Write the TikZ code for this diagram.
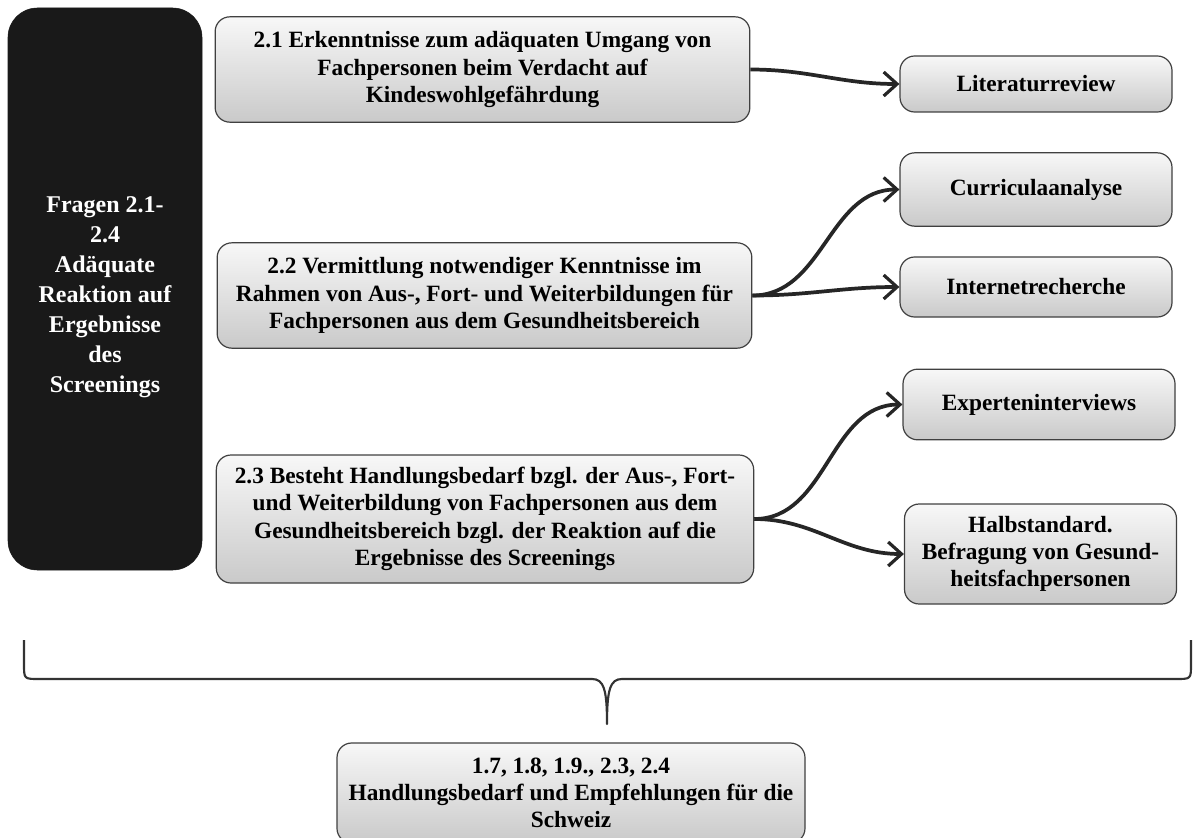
\documentclass[tikz,border=0pt]{standalone}
\usepackage{fontspec}
\setmainfont{Liberation Serif}
\usetikzlibrary{arrows.meta,positioning,calc}
\tikzset{
  frage/.style={rectangle, rounded corners=22pt, fill=black!90, draw=black!90, text=white, align=center, font=\bfseries\fontsize{18}{22.5}\selectfont, inner sep=2pt},
  frbox/.style={rectangle, rounded corners=11pt, draw=black!75, line width=0.9pt, top color=gray!6, bottom color=gray!42, align=center, font=\bfseries\fontsize{17.5}{20.5}\selectfont, inner sep=2pt},
  method/.style={frbox, minimum width=204pt},
  arrow/.style={-{Straight Barb[length=10pt,width=18pt,line width=2.4pt]}, line width=2.8pt, black!85},
  klammer/.style={line width=1.6pt, black!80, line join=round}
}
\begin{document}
\begin{tikzpicture}[x=0.75pt,y=-0.75pt]
  \useasboundingbox (0,0) rectangle (1195,838);
  \node[frage, minimum width=145.5pt, minimum height=421.5pt] (fr) at (105,289) {};
  \node[frage, fill=none, draw=none] (frtext) at (105,297) {Fragen 2.1-\\2.4\\Adäquate\\Reaktion auf\\Ergebnisse\\des\\Screenings};
  \node[frbox, minimum width=401pt, minimum height=79pt] (q21) at (482.5,69.5) {2.1 Erkenntnisse zum adäquaten Umgang von\\Fachpersonen beim Verdacht auf\\Kindeswohlgefährdung};
  \node[frbox, minimum width=401pt, minimum height=79pt] (q22) at (484.5,295.5) {2.2 Vermittlung notwendiger Kenntnisse im\\Rahmen von Aus-, Fort- und Weiterbildungen für\\Fachpersonen aus dem Gesundheitsbereich};
  \node[frbox, minimum width=403pt, minimum height=96pt] (q23) at (485,519) {2.3 Besteht Handlungsbedarf bzgl. der Aus-, Fort-\\und Weiterbildung von Fachpersonen aus dem\\Gesundheitsbereich bzgl. der Reaktion auf die\\Ergebnisse des Screenings};
  \node[method, minimum height=42pt] (lit) at (1036,84) {Literaturreview};
  \node[method, minimum height=55pt] (cur) at (1036,189.5) {Curriculaanalyse};
  \node[method, minimum height=45pt] (inet) at (1036,287) {Internetrecherche};
  \node[method, minimum height=53pt] (expt) at (1039,404.5) {Experteninterviews};
  \node[method, minimum height=75pt] (halb) at (1040.5,554) {Halbstandard.\\Befragung von Gesund-\\heitsfachpersonen};
  \node[frbox, minimum width=351pt, minimum height=75pt] (fazit) at (571,793) {1.7, 1.8, 1.9., 2.3, 2.4\\Handlungsbedarf und Empfehlungen für die\\Schweiz};
  \draw[arrow] (q21.east) to[out=0,in=180] (lit.west);
  \draw[arrow] (q22.east) to[out=0,in=180] (cur.west);
  \draw[arrow] (q22.east) to[out=0,in=180] (inet.west);
  \draw[arrow] (q23.east) to[out=0,in=180] (expt.west);
  \draw[arrow] (q23.east) to[out=0,in=180] (halb.west);
  % Klammer
  \coordinate (kl) at (24,640);
  \coordinate (kr) at (1191,640);
  \coordinate (kt) at (607,724);
  \draw[klammer] (kl) -- (24,664) .. controls (24,679) .. (39,679) -- (592,679)
    .. controls (604,679) and (607,690) .. (kt)
    .. controls (607,690) and (610,679) .. (622,679) -- (1176,679)
    .. controls (1191,679) .. (1191,664) -- (kr);
\end{tikzpicture}
\end{document}
